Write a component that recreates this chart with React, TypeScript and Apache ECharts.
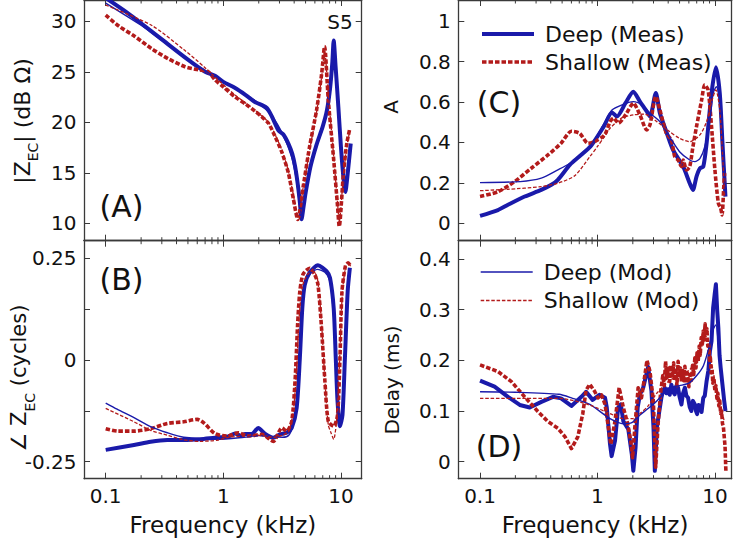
import React, { useEffect, useRef } from 'react';
import * as echarts from 'echarts';

// ---------- tick values ----------
const freqMajorTicks = [0.1, 1, 10];
const freqMajorLabels = ['0.1', '1', '10'];
const freqMinorTicks = [0.2, 0.3, 0.4, 0.5, 0.6, 0.7, 0.8, 0.9, 2, 3, 4, 5, 6, 7, 8, 9];
const magTicks = [10, 15, 20, 25, 30];
const phaseTicks = [-0.25, 0, 0.25];
const absTicks = [0, 0.2, 0.4, 0.6, 0.8, 1];
const delayTicks = [0, 0.1, 0.2, 0.3, 0.4];

// ---------- (A) |Z_EC| dB ----------
const magDeepMeas = [[0.1,32.3],[0.15,30.9],[0.2,29.8],[0.3,28.2],[0.5,26.2],[0.7,25.0],[0.85,24.6],[1.0,24.0],[1.26,23.4],[1.55,22.7],[1.86,22.0],[2.13,21.7],[2.35,21.4],[2.58,20.6],[2.94,19.2],[3.24,18.8],[3.57,17.9],[3.85,16.9],[4.08,15.6],[4.3,13.8],[4.48,12.0],[4.62,10.4],[4.8,11.6],[5.0,13.0],[5.5,15.6],[6.2,17.8],[7.0,19.6],[7.6,21.2],[8.1,23.5],[8.45,26.0],[8.67,28.1],[9.0,25.5],[9.5,21.5],[10.0,17.5],[10.5,14.5],[10.9,13.1],[11.3,14.5],[12.1,17.9]];
const magShallowMeas = [[0.1,30.6],[0.13,29.5],[0.177,28.5],[0.245,27.3],[0.339,26.3],[0.472,25.5],[0.61,25.2],[0.744,25.0],[0.85,24.2],[1.0,23.5],[1.26,22.5],[1.55,21.8],[1.86,21.1],[2.1,20.6],[2.42,19.9],[2.75,18.6],[3.13,17.1],[3.57,15.0],[3.94,12.4],[4.29,10.4],[4.78,13.7],[5.41,17.6],[6.2,21.2],[6.85,24.8],[7.25,27.5],[7.8,22.2],[8.67,16.3],[9.35,11.7],[9.66,9.7],[10.5,15.0],[11.2,17.9],[11.9,19.4]];
const magDeepMod = [[0.1,31.8],[0.2,29.6],[0.3,28.1],[0.5,26.2],[1.0,24.0],[1.5,22.8],[2.0,21.9],[2.6,20.6],[3.2,18.8],[3.8,16.6],[4.2,14.2],[4.6,10.9],[5.0,12.8],[5.5,15.4],[6.2,17.6],[7.0,19.4],[7.8,21.6],[8.3,24.2],[8.65,27.5],[9.2,23.5],[10.0,17.2],[10.8,13.6],[11.4,14.6],[12.1,17.5]];
const magShallowMod = [[0.1,31.6],[0.245,29.6],[0.46,27.2],[0.685,25.5],[0.9,24.2],[1.26,22.7],[1.86,21.2],[2.42,20.0],[2.75,18.8],[3.13,17.3],[3.57,15.2],[3.94,12.8],[4.29,10.6],[4.78,13.6],[5.44,17.4],[6.2,21.0],[6.85,24.5],[7.25,27.0],[7.82,22.6],[8.67,16.6],[9.35,12.0],[9.66,10.2],[10.5,14.8],[11.2,17.6],[11.9,19.2]];

// ---------- (B) angle Z_EC cycles ----------
const phaseDeepMeas = [[0.1,-0.221],[0.174,-0.209],[0.241,-0.201],[0.334,-0.197],[0.46,-0.197],[0.635,-0.195],[0.85,-0.191],[1.1,-0.188],[1.26,-0.181],[1.4,-0.186],[1.53,-0.182],[1.75,-0.182],[1.98,-0.167],[2.27,-0.182],[2.66,-0.191],[3.03,-0.183],[3.45,-0.179],[3.81,-0.167],[4.2,-0.118],[4.47,0.004],[4.69,0.127],[4.92,0.184],[5.41,0.214],[6.37,0.232],[7.54,0.218],[8.07,0.201],[8.67,0.127],[9.03,0.004],[9.35,-0.102],[9.8,-0.163],[10.3,-0.135],[10.8,0.004],[11.4,0.168],[11.9,0.226]];
const phaseShallowMeas = [[0.1,-0.169],[0.127,-0.175],[0.174,-0.175],[0.241,-0.169],[0.334,-0.156],[0.46,-0.152],[0.6,-0.146],[0.69,-0.156],[0.85,-0.181],[1.08,-0.187],[1.34,-0.179],[1.63,-0.187],[2.12,-0.183],[2.66,-0.2],[3.14,-0.167],[3.45,-0.175],[3.81,-0.151],[4.07,-0.052],[4.28,0.087],[4.47,0.168],[4.76,0.21],[5.41,0.225],[5.97,0.21],[6.37,0.185],[6.8,0.087],[7.3,-0.052],[7.8,-0.151],[8.67,-0.163],[9.35,-0.135],[9.8,0.004],[10.2,0.168],[10.9,0.23],[11.5,0.238],[12.1,0.23]];
const phaseDeepMod = [[0.1,-0.106],[0.125,-0.121],[0.174,-0.142],[0.241,-0.164],[0.334,-0.179],[0.46,-0.19],[0.89,-0.195],[1.5,-0.19],[2.0,-0.186],[2.6,-0.189],[3.2,-0.19],[3.6,-0.185],[3.9,-0.16],[4.2,-0.1],[4.45,0.02],[4.7,0.14],[5.0,0.19],[5.5,0.212],[6.3,0.222],[7.3,0.215],[8.0,0.195],[8.6,0.12],[9.0,0.0],[9.35,-0.11],[9.8,-0.16],[10.3,-0.13],[10.8,0.0],[11.4,0.16],[11.9,0.22]];
const phaseShallowMod = [[0.1,-0.119],[0.174,-0.152],[0.241,-0.173],[0.334,-0.185],[0.46,-0.196],[0.64,-0.2],[0.9,-0.197],[1.1,-0.19],[1.5,-0.187],[2.0,-0.185],[2.7,-0.19],[3.2,-0.185],[3.6,-0.175],[3.95,-0.12],[4.2,-0.02],[4.4,0.1],[4.7,0.18],[5.2,0.21],[5.8,0.218],[6.3,0.2],[6.8,0.1],[7.3,-0.05],[7.8,-0.16],[8.2,-0.178],[8.67,-0.195],[9.1,-0.16],[9.4,-0.1],[9.8,0.02],[10.3,0.17],[11.0,0.23],[11.6,0.235],[12.1,0.23]];

// ---------- (C) A ----------
const absDeepMeas = [[0.1,0.036],[0.142,0.065],[0.173,0.091],[0.24,0.132],[0.332,0.165],[0.405,0.19],[0.46,0.215],[0.584,0.29],[0.7,0.33],[0.886,0.385],[1.13,0.478],[1.33,0.548],[1.46,0.528],[1.73,0.594],[2.02,0.651],[2.3,0.602],[2.63,0.553],[2.8,0.528],[3.14,0.644],[3.4,0.545],[3.86,0.453],[4.4,0.363],[5.37,0.28],[6.1,0.198],[6.5,0.165],[6.97,0.231],[7.45,0.272],[7.96,0.28],[8.5,0.396],[9.36,0.644],[10.2,0.772],[11.0,0.644],[11.6,0.396],[12.3,0.132]];
const absShallowMeas = [[0.1,0.132],[0.142,0.156],[0.197,0.206],[0.273,0.272],[0.379,0.338],[0.49,0.396],[0.6,0.455],[0.705,0.445],[0.83,0.396],[0.945,0.404],[1.15,0.437],[1.28,0.503],[1.37,0.52],[1.51,0.495],[1.75,0.54],[2.02,0.594],[2.3,0.536],[2.63,0.462],[2.8,0.487],[3.14,0.627],[3.4,0.561],[3.86,0.445],[4.26,0.412],[4.55,0.33],[4.86,0.313],[5.19,0.28],[5.37,0.313],[5.73,0.264],[6.1,0.28],[6.5,0.379],[6.97,0.478],[7.71,0.61],[8.2,0.685],[8.75,0.66],[9.36,0.478],[10.0,0.264],[10.7,0.099],[11.2,0.074],[11.5,0.041],[11.9,0.181],[12.1,0.248]];
const absDeepMod = [[0.1,0.201],[0.22,0.206],[0.332,0.223],[0.46,0.264],[0.584,0.297],[0.7,0.335],[0.886,0.39],[1.13,0.49],[1.33,0.56],[1.6,0.585],[2.02,0.602],[2.4,0.585],[2.8,0.545],[3.4,0.503],[4.1,0.429],[5.0,0.354],[6.1,0.313],[6.75,0.305],[7.45,0.32],[8.2,0.379],[9.07,0.511],[9.66,0.644],[10.3,0.676],[11.0,0.61],[11.6,0.45],[12.0,0.264],[12.3,0.15]];
const absShallowMod = [[0.1,0.161],[0.173,0.168],[0.332,0.181],[0.46,0.198],[0.64,0.235],[0.863,0.33],[1.0,0.38],[1.15,0.43],[1.28,0.47],[1.6,0.52],[2.02,0.536],[2.5,0.54],[3.2,0.503],[4.1,0.454],[5.0,0.42],[6.1,0.404],[7.45,0.437],[8.5,0.503],[9.36,0.6],[10.2,0.66],[11.0,0.56],[11.6,0.346],[12.0,0.18]];

// ---------- (D) Delay ms ----------
const delayDeepMeas = [[0.1,0.16],[0.133,0.148],[0.173,0.128],[0.218,0.112],[0.265,0.107],[0.333,0.118],[0.418,0.128],[0.49,0.125],[0.6,0.11],[0.73,0.128],[0.8,0.138],[0.91,0.122],[1.04,0.132],[1.16,0.126],[1.2,0.107],[1.28,0.034],[1.32,0.011],[1.41,0.041],[1.5,0.107],[1.58,0.113],[1.66,0.08],[1.83,0.064],[1.96,0.015],[2.02,-0.018],[2.11,0.028],[2.2,0.107],[2.3,0.133],[2.45,0.146],[2.7,0.187],[2.88,0.14],[3.0,0.067],[3.08,-0.018],[3.2,0.067],[3.5,0.126],[3.62,0.14],[3.74,0.146],[3.87,0.135],[3.99,0.143],[4.12,0.132],[4.26,0.152],[4.4,0.138],[4.55,0.133],[4.7,0.15],[4.86,0.146],[5.0,0.128],[5.19,0.113],[5.35,0.135],[5.55,0.146],[5.72,0.13],[5.91,0.126],[6.1,0.108],[6.3,0.1],[6.5,0.12],[6.75,0.113],[6.9,0.1],[7.06,0.094],[7.25,0.112],[7.45,0.11],[7.7,0.098],[7.96,0.126],[8.2,0.13],[8.5,0.159],[8.8,0.18],[9.07,0.218],[9.36,0.238],[9.66,0.304],[9.95,0.33],[10.2,0.35],[10.45,0.3],[10.7,0.264],[10.95,0.21],[11.2,0.185],[11.6,0.152],[12.0,0.12],[12.3,0.1]];
const delayShallowMeas = [[0.1,0.191],[0.142,0.178],[0.185,0.158],[0.24,0.128],[0.311,0.099],[0.379,0.079],[0.46,0.066],[0.53,0.049],[0.6,0.026],[0.68,0.049],[0.75,0.095],[0.8,0.141],[0.86,0.153],[0.945,0.139],[1.01,0.126],[1.08,0.132],[1.16,0.113],[1.24,0.067],[1.3,0.034],[1.41,0.08],[1.53,0.146],[1.66,0.107],[1.8,0.077],[1.92,0.041],[1.99,0.008],[2.08,0.067],[2.22,0.146],[2.37,0.126],[2.49,0.159],[2.64,0.2],[2.8,0.178],[2.99,0.12],[3.13,-0.011],[3.28,0.074],[3.46,0.139],[3.6,0.17],[3.7,0.15],[3.8,0.198],[3.9,0.165],[4.0,0.185],[4.12,0.158],[4.22,0.19],[4.35,0.165],[4.45,0.195],[4.55,0.16],[4.65,0.185],[4.75,0.15],[4.86,0.198],[4.98,0.17],[5.08,0.185],[5.19,0.158],[5.3,0.18],[5.42,0.16],[5.55,0.188],[5.7,0.155],[5.85,0.175],[6.0,0.148],[6.15,0.172],[6.3,0.16],[6.45,0.19],[6.6,0.172],[6.75,0.205],[6.9,0.185],[7.05,0.215],[7.2,0.198],[7.35,0.228],[7.5,0.21],[7.65,0.245],[7.8,0.228],[7.95,0.258],[8.1,0.24],[8.25,0.272],[8.4,0.25],[8.55,0.262],[8.7,0.228],[8.85,0.235],[9.0,0.2],[9.15,0.205],[9.3,0.175],[9.45,0.182],[9.6,0.155],[9.8,0.165],[10.0,0.14],[10.2,0.15],[10.4,0.125],[10.6,0.135],[10.8,0.11],[11.0,0.12],[11.2,0.095],[11.4,0.1],[11.6,0.075],[11.8,0.07],[12.0,0.05],[12.2,0.03],[12.4,-0.018]];
const delayDeepMod = [[0.1,0.138],[0.2,0.137],[0.47,0.133],[0.6,0.126],[0.86,0.113],[1.28,0.085],[1.66,0.075],[1.96,0.077],[2.3,0.092],[2.7,0.105],[3.2,0.12],[4.1,0.145],[5.0,0.15],[6.0,0.155],[7.0,0.17],[8.0,0.19],[9.0,0.23],[9.6,0.26],[10.2,0.27],[10.8,0.22],[11.5,0.15],[12.2,0.1]];
const delayShallowMod = [[0.1,0.125],[0.2,0.125],[0.47,0.125],[0.7,0.118],[0.9,0.11],[1.28,0.095],[1.66,0.085],[2.0,0.085],[2.3,0.095],[2.7,0.11],[3.2,0.135],[4.1,0.16],[5.0,0.17],[6.0,0.18],[7.0,0.2],[7.7,0.23],[8.2,0.25],[8.7,0.24],[9.3,0.2],[10.0,0.16],[11.0,0.12],[12.0,0.08]];

const BLUE = '#1a1aaa';
const RED = '#b31b1b';
const FRAME = '#3a3a3a';
const INK = '#111111';
const FONT = 'DejaVu Sans';

const NAME_DM = 'Deep (Meas)';
const NAME_SM = 'Shallow (Meas)';
const NAME_DO = 'Deep (Mod)';
const NAME_SO = 'Shallow (Mod)';

type Panel = {
  box: [number, number, number, number];
  x: [number, number];
  y: [number, number];
  step: number;
  ticks: number[];
  showX: boolean;
  sets: number[][][];
  noisy: boolean;
};

const panels: Panel[] = [
  { box: [84, 0, 277.7, 240.7], x: [0.0654, 15.0], y: [8.29, 32.1], step: 5, ticks: magTicks, showX: false,
    sets: [magDeepMeas, magShallowMeas, magDeepMod, magShallowMod], noisy: false },
  { box: [84, 240.7, 277.7, 238], x: [0.0654, 15.0], y: [-0.2917, 0.2925], step: 0.125, ticks: phaseTicks, showX: true,
    sets: [phaseDeepMeas, phaseShallowMeas, phaseDeepMod, phaseShallowMod], noisy: false },
  { box: [458.3, 0, 273.4, 240.7], x: [0.0653, 13.9], y: [-0.0866, 1.105], step: 0.2, ticks: absTicks, showX: false,
    sets: [absDeepMeas, absShallowMeas, absDeepMod, absShallowMod], noisy: false },
  { box: [458.3, 240.7, 273.4, 238], x: [0.0653, 13.9], y: [-0.0335, 0.436], step: 0.1, ticks: delayTicks, showX: true,
    sets: [delayDeepMeas, delayShallowMeas, delayDeepMod, delayShallowMod], noisy: true },
];

const labelFrom = (ticks: number[]) => (v: number) => {
  for (const t of ticks) if (Math.abs(v - t) < 1e-6 * Math.max(1, Math.abs(t))) return String(t);
  return '';
};
const freqLabel = (v: number) => {
  for (let i = 0; i < freqMajorTicks.length; i++) {
    if (Math.abs(v - freqMajorTicks[i]) < 1e-6 * freqMajorTicks[i]) return freqMajorLabels[i];
  }
  return '';
};

export default function App() {
  const ref = useRef<HTMLDivElement>(null);
  useEffect(() => {
    document.body.style.margin = '0';
    const chart = echarts.init(ref.current as HTMLDivElement, null, { renderer: 'svg' });
    const grid: any[] = [];
    const xAxis: any[] = [];
    const yAxis: any[] = [];
    const series: any[] = [];
    const lineAx = { show: true, onZero: false, lineStyle: { color: FRAME, width: 1.3 } };

    panels.forEach((p, i) => {
      grid.push({ left: p.box[0], top: p.box[1], width: p.box[2], height: p.box[3], containLabel: false, outerBoundsMode: 'none' });
      const xb = {
        type: 'log', logBase: 10, min: p.x[0], max: p.x[1], gridIndex: i,
        axisLine: lineAx, splitLine: { show: false },
        axisTick: { show: true, inside: true, length: 6, lineStyle: { color: FRAME, width: 1 } },
      };
      xAxis.push({
        ...xb, position: 'bottom',
        axisLabel: { show: p.showX, formatter: freqLabel, margin: 7, fontFamily: FONT, fontSize: 20, color: INK },
        name: p.showX ? 'Frequency (kHz)' : '', nameLocation: 'middle', nameGap: 35,
        nameTextStyle: { fontFamily: FONT, fontSize: 23, color: INK },
      });
      xAxis.push({ ...xb, position: 'top', axisLabel: { show: false } });
      const yb = {
        type: 'value', min: p.y[0], max: p.y[1], minInterval: p.step, maxInterval: p.step, splitNumber: 5, gridIndex: i,
        axisLine: lineAx, splitLine: { show: false },
        axisTick: { show: true, inside: true, length: 6, lineStyle: { color: FRAME, width: 1 } },
      };
      yAxis.push({
        ...yb, position: 'left',
        axisLabel: { show: true, formatter: labelFrom(p.ticks), showMinLabel: false, showMaxLabel: false, margin: 7.5, fontFamily: FONT, fontSize: 20, color: INK },
      });
      yAxis.push({ ...yb, position: 'right', axisLabel: { show: false } });

      const styles = [
        { name: NAME_DM, color: BLUE, width: 4, type: 'solid' },
        { name: NAME_SM, color: RED, width: 3.6, type: [4.5, 2] },
        { name: NAME_DO, color: BLUE, width: 1.4, type: 'solid' },
        { name: NAME_SO, color: RED, width: 1.3, type: [3.5, 1.8] },
      ];
      p.sets.forEach((data, k) => {
        const s = styles[k];
        series.push({
          type: 'line', name: s.name, data, xAxisIndex: 2 * i, yAxisIndex: 2 * i,
          symbol: 'none', showSymbol: false, silent: true, clip: true,
          smooth: p.noisy && k < 2 ? false : 0.25,
          lineStyle: { color: s.color, width: s.width, type: s.type, cap: 'butt', join: 'round' },
          itemStyle: { color: s.color },
          emphasis: { disabled: true },
          z: 2 + k,
        });
      });

      const [y0, y1] = p.y;
      series.push({
        type: 'custom', xAxisIndex: 2 * i, yAxisIndex: 2 * i, silent: true, clip: false, z: 10,
        data: freqMinorTicks.filter((f) => f > p.x[0] && f < p.x[1]).map((f) => [f, y0]),
        encode: { x: 0, y: 1 },
        renderItem: (_params: any, api: any) => {
          const f = api.value(0);
          const b = api.coord([f, y0]);
          const t = api.coord([f, y1]);
          return {
            type: 'group',
            children: [
              { type: 'line', shape: { x1: b[0], y1: b[1], x2: b[0], y2: b[1] - 3.5 }, style: { stroke: FRAME, lineWidth: 1 } },
              { type: 'line', shape: { x1: t[0], y1: t[1], x2: t[0], y2: t[1] + 3.5 }, style: { stroke: FRAME, lineWidth: 1 } },
            ],
          };
        },
      });
    });

    const legendText = { fontFamily: FONT, fontSize: 22, color: INK, padding: [0, 0, 0, 6], lineHeight: 22 };
    const legend = [
      {
        orient: 'vertical', left: 480, top: 23, padding: 0, itemWidth: 52, itemHeight: 14, itemGap: 6, selectedMode: false,
        textStyle: legendText, itemStyle: { opacity: 0 },
        data: [
          { name: NAME_DM, lineStyle: { color: BLUE, width: 4, type: 'solid' } },
          { name: NAME_SM, lineStyle: { color: RED, width: 3.6, type: [4.5, 2] } },
        ],
      },
      {
        orient: 'vertical', left: 480, top: 261, padding: 0, itemWidth: 52, itemHeight: 14, itemGap: 6.5, selectedMode: false,
        textStyle: legendText, itemStyle: { opacity: 0 },
        data: [
          { name: NAME_DO, lineStyle: { color: BLUE, width: 1.4, type: 'solid' } },
          { name: NAME_SO, lineStyle: { color: RED, width: 1.3, type: [3.5, 1.8] } },
        ],
      },
    ];

    const txt = (text: string, x: number, y: number, size: number) => ({
      type: 'text', x, y, z: 20, silent: true,
      style: { text, fontFamily: FONT, fontSize: size, fill: INK, align: 'center', verticalAlign: 'middle' },
    });
    const richOf = (size: number) => ({
      m: { fontFamily: FONT, fontSize: size, fill: INK, color: INK, lineHeight: size + 14, verticalAlign: 'middle' },
      s: { fontFamily: FONT, fontSize: Math.round(size * 0.65), fill: INK, color: INK, lineHeight: Math.round(size * 0.65), verticalAlign: 'bottom' },
    });
    const vtxt = (text: string, x: number, y: number, size: number) => ({
      type: 'text', x, y, rotation: Math.PI / 2, z: 20, silent: true,
      style: { text, rich: richOf(size), fontFamily: FONT, fontSize: size, fill: INK, align: 'center', verticalAlign: 'middle' },
    });

    const graphic = [
      txt('(A)', 121.5, 206, 30),
      txt('(B)', 121.5, 279, 30),
      txt('(C)', 499, 102.5, 30),
      txt('(D)', 499, 446, 30),
      txt('S5', 340, 21.5, 20),
      vtxt('{m||Z}{s|EC}{m|| (dB Ω)}', 22, 121, 22),
      vtxt('{m|∠ Z}{s|EC}{m| (cycles)}', 19, 378, 21),
      vtxt('{m|A}', 391, 107, 20),
      vtxt('{m|Delay (ms)}', 391.5, 380, 20),
    ];

    chart.setOption({
      animation: false,
      backgroundColor: '#ffffff',
      grid, xAxis, yAxis, series, legend, graphic,
    });
    return () => chart.dispose();
  }, []);
  return <div ref={ref} style={{ width: 740, height: 543 }} />;
}
